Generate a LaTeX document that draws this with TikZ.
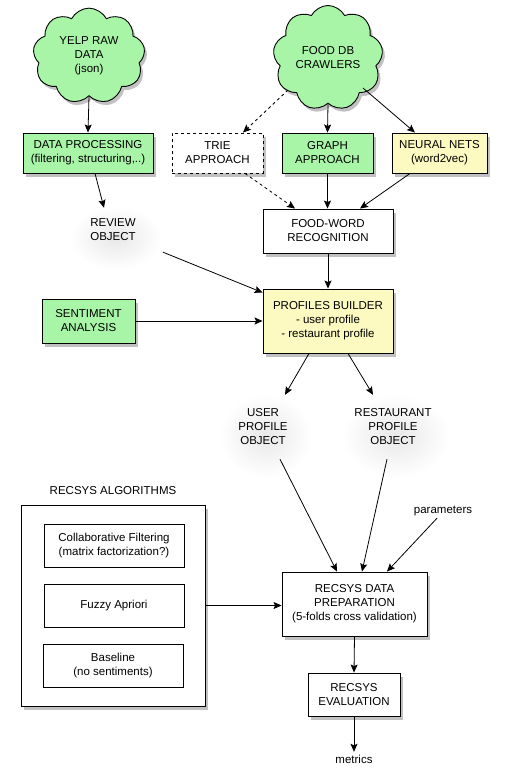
\documentclass[tikz,border=0pt]{standalone}
\usepackage{fontspec}
\setmainfont{Liberation Sans}
\usetikzlibrary{arrows.meta,shapes.symbols,shadows,calc}
\definecolor{lgreen}{HTML}{A8F5A8}
\definecolor{lyellow}{HTML}{FCFAC0}
\begin{document}
\begin{tikzpicture}[x=1pt,y=-1pt,
  every node/.style={font=\fontsize{11.5}{14}\selectfont, align=center, inner sep=0pt},
  shad/.style={drop shadow={shadow xshift=2.5pt, shadow yshift=-3.5pt, opacity=0.4, fill=black!60}},
  boxw/.style={draw=black, line width=0.9pt, fill=white, shad},
  boxg/.style={draw=black, line width=0.9pt, fill=lgreen, shad},
  boxy/.style={draw=black, line width=0.9pt, fill=lyellow, shad},
  plain/.style={draw=black, line width=0.9pt, fill=white},
  cloudn/.style={cloud, cloud puffs=9, cloud puff arc=125, draw=black, line width=0.9pt, fill=lgreen, shad},
  arr/.style={-{Stealth[length=8pt,width=7pt,inset=1.5pt]}, line width=0.8pt},
  glow/.style={inner color=black!9, outer color=white}
]
\useasboundingbox (0,0) rectangle (508,776);
\fill[white] (0,0) rectangle (508,776);

% soft glows behind free-standing texts
\shade[glow] (116,238) ellipse (46 and 32);
\shade[glow] (266,436) ellipse (46 and 42);
\shade[glow] (396,436) ellipse (54 and 42);

% clouds
\node[cloudn, minimum width=112pt, minimum height=80pt] (yelp) at (89,56) {YELP RAW\\DATA\\(json)};
\node[cloudn, minimum width=110pt, minimum height=78pt] (fooddb) at (328,58) {FOOD DB\\CRAWLERS};

% first row of boxes
\node[boxg, minimum width=130pt, minimum height=40pt] (dp) at (88,153) {DATA PROCESSING\\(filtering, structuring,..)};
\node[boxw, dashed, minimum width=91pt, minimum height=40pt] (trie) at (217.5,153) {TRIE\\APPROACH};
\node[boxg, minimum width=91pt, minimum height=40pt] (graph) at (327.5,153) {GRAPH\\APPROACH};
\node[boxy, minimum width=95pt, minimum height=40pt] (neural) at (439.5,153) {NEURAL NETS\\(word2vec)};

\node[boxw, minimum width=130pt, minimum height=44pt] (fw) at (328,231) {FOOD-WORD\\RECOGNITION};
\node[minimum width=60pt, minimum height=44pt] (review) at (113,230) {REVIEW\\OBJECT};

\node[boxg, minimum width=93pt, minimum height=44pt] (sent) at (88.5,321) {SENTIMENT\\ANALYSIS};
\node[boxy, minimum width=130pt, minimum height=64pt] (prof) at (328,321) {PROFILES BUILDER\\- user profile\\- restaurant profile};

\node[minimum width=60pt, minimum height=64pt] (user) at (263,427) {USER\\PROFILE\\OBJECT};
\node[minimum width=80pt, minimum height=64pt] (rest) at (393,427) {RESTAURANT\\PROFILE\\OBJECT};

% recsys algorithms
\node (alglabel) at (113,491) {RECSYS ALGORITHMS};
\node[boxw, minimum width=184pt, minimum height=201pt] (outer) at (113,605.5) {};
\node[plain, minimum width=140pt, minimum height=43pt] (collab) at (114,545.5) {Collaborative Filtering\\(matrix factorization?)};
\node[plain, minimum width=140pt, minimum height=43pt] (fuzzy) at (114,605.5) {Fuzzy Apriori};
\node[plain, minimum width=140pt, minimum height=43pt] (base) at (113,665.5) {Baseline\\(no sentiments)};

\node[boxw, minimum width=145pt, minimum height=64pt] (prep) at (354.5,604) {RECSYS DATA\\PREPARATION\\(5-folds cross validation)};
\node[boxw, minimum width=92pt, minimum height=43pt] (eval) at (354,694.5) {RECSYS\\EVALUATION};
\node[minimum height=14pt] (metrics) at (354,759) {metrics};
\node[minimum height=14pt] (params) at (443,511) {parameters};

% connectors
\draw[arr] (yelp.south) -- (dp.north);
\draw[arr, dashed] ([shift={(-40,32)}]fooddb.center) -- ([xshift=25.5pt]trie.north);
\draw[arr] (fooddb.south) -- (graph.north);
\draw[arr] ([shift={(35,30)}]fooddb.center) -- ([xshift=-24.5pt]neural.north);
\draw[arr, dashed] ([xshift=27.5pt]trie.south) -- ([xshift=-33pt]fw.north);
\draw[arr] (graph.south) -- (graph.south |- fw.north);
\draw[arr] ([xshift=-29.5pt]neural.south) -- ([xshift=32pt]fw.north);
\draw[arr] ([xshift=7pt]dp.south) -- ([xshift=-9pt]review.north);
\draw[arr] ([xshift=50pt]review.south) -- ([yshift=-4pt]prof.north west);
\draw[arr] (fw.south) -- (prof.north);
\draw[arr] (sent.east) -- (prof.west);
\draw[arr] ([xshift=-19pt]prof.south) -- ([xshift=22pt]user.north);
\draw[arr] ([xshift=20pt]prof.south) -- ([xshift=-20pt]rest.north);
\draw[arr] ([xshift=17pt]user.south) -- ([xshift=-17.5pt]prep.north);
\draw[arr] ([xshift=-6pt]rest.south) -- ([xshift=7.5pt]prep.north);
\draw[arr] ([xshift=-6pt]params.south) -- ([xshift=32.5pt]prep.north);
\draw[arr] (outer.east) -- (outer.east -| prep.west);
\draw[arr] (prep.south) -- (eval.north);
\draw[arr] (eval.south) -- (metrics.north);
\end{tikzpicture}
\end{document}
